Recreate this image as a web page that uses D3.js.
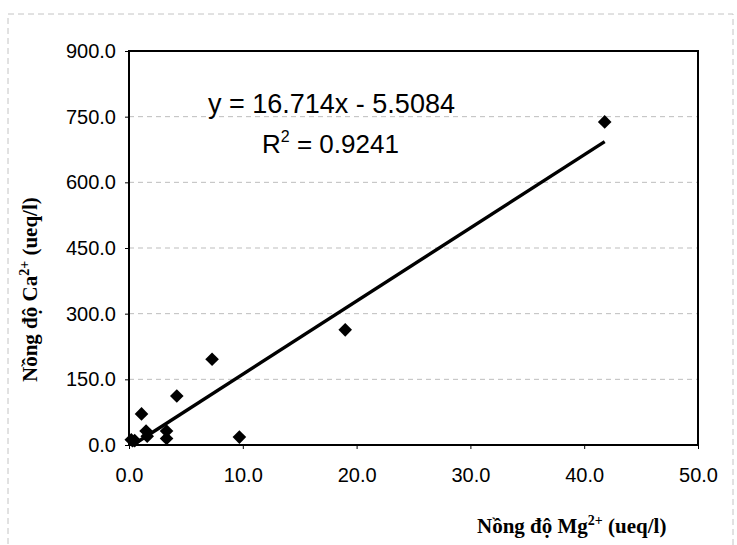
<!DOCTYPE html>
<html><head><meta charset="utf-8">
<script src="https://cdn.jsdelivr.net/npm/d3@7"></script>
<style>body{margin:0;background:#fff} svg{display:block}</style>
</head><body><svg id="c" width="737" height="545"></svg>
<script>
// Data
const mg = [0.2, 0.5, 1.1, 1.5, 1.6, 3.3, 3.3, 4.2, 7.3, 9.7, 19.0, 41.8];
const ca = [12, 10, 71, 32, 20, 32, 15, 112, 196, 18, 263, 738];
const xTicks = [0, 10, 20, 30, 40, 50];
const yTicks = [0, 150, 300, 450, 600, 750, 900];
const trendSlope = 16.714;
const trendIntercept = -5.5084;
const trendR2 = "0.9241";
const eqLabel = "y = 16.714x - 5.5084";

const svg = d3.select("#c");
const W = 737, H = 545;
const m = {left: 129, top: 51, right: 39, bottom: 100};
const x = d3.scaleLinear().domain([0, 50]).range([m.left, W - m.right]);
const y = d3.scaleLinear().domain([0, 900]).range([H - m.bottom, m.top]);
const fmt = d3.format(".1f");

// outer chart-area frame (light, dashed like the scan)
svg.append("rect").attr("x", 8).attr("y", 14).attr("width", 725).attr("height", 560)
  .attr("fill", "none").attr("stroke", "#c4c4c4").attr("stroke-width", 1)
  .attr("stroke-dasharray", "6,4");

// gridlines
svg.append("g").selectAll("line").data(yTicks.filter(d => d > 0 && d < 900)).join("line")
  .attr("x1", x(0)).attr("x2", x(50))
  .attr("y1", d => y(d)).attr("y2", d => y(d))
  .attr("stroke", "#bdbdbd").attr("stroke-width", 1).attr("stroke-dasharray", "5,4");

// axes
const tickFont = "'Liberation Sans', Arial, sans-serif";
const gy = svg.append("g").attr("transform", `translate(${x(0)},0)`)
  .call(d3.axisLeft(y).tickValues(yTicks).tickFormat(fmt).tickSize(4).tickPadding(9));
const gx = svg.append("g").attr("transform", `translate(0,${y(0)})`)
  .call(d3.axisBottom(x).tickValues(xTicks).tickFormat(fmt).tickSize(4).tickPadding(19));
[gx, gy].forEach(g => {
  g.select(".domain").remove();
  g.selectAll(".tick line").attr("stroke", "#000").attr("stroke-width", 1);
  g.selectAll(".tick text").attr("font-family", tickFont).attr("font-size", 20).attr("fill", "#000");
});

// plot border
svg.append("rect").attr("x", x(0)).attr("y", y(900))
  .attr("width", x(50) - x(0)).attr("height", y(0) - y(900))
  .attr("fill", "none").attr("stroke", "#000").attr("stroke-width", 2);

// trendline
const xmin = d3.min(mg), xmax = d3.max(mg);
svg.append("line")
  .attr("x1", x(xmin)).attr("y1", y(trendSlope * xmin + trendIntercept))
  .attr("x2", x(xmax)).attr("y2", y(trendSlope * xmax + trendIntercept))
  .attr("stroke", "#000").attr("stroke-width", 3.4);

// points
const pts = mg.map((v, i) => ({mg: v, ca: ca[i]}));
svg.append("g").selectAll("path").data(pts).join("path")
  .attr("transform", d => `translate(${x(d.mg)},${y(d.ca)})`)
  .attr("d", "M0,-6.8L6.8,0L0,6.8L-6.8,0Z").attr("fill", "#000");

// equation
svg.append("text").attr("x", 208).attr("y", 113)
  .attr("font-family", tickFont).attr("font-size", 27).attr("fill", "#000")
  .text(eqLabel);
const r = svg.append("text").attr("x", 262).attr("y", 153)
  .attr("font-family", tickFont).attr("font-size", 26).attr("fill", "#000");
r.append("tspan").text("R");
r.append("tspan").attr("dy", -11).attr("font-size", 16).text("2");
r.append("tspan").attr("dy", 11).text(" = " + trendR2);

// axis titles
const titleFont = "'Liberation Serif', 'Times New Roman', serif";
const xt = svg.append("text").attr("x", 477).attr("y", 533)
  .attr("font-family", titleFont).attr("font-weight", "bold").attr("font-size", 21).attr("fill", "#000");
xt.append("tspan").text("Nồng độ Mg");
xt.append("tspan").attr("dy", -8).attr("font-size", 14).text("2+");
xt.append("tspan").attr("dy", 8).text(" (ueq/l)");

const yt = svg.append("text").attr("transform", "translate(37,382) rotate(-90)")
  .attr("font-family", titleFont).attr("font-weight", "bold").attr("font-size", 21).attr("fill", "#000");
yt.append("tspan").text("Nồng độ Ca");
yt.append("tspan").attr("dy", -8).attr("font-size", 14).text("2+");
yt.append("tspan").attr("dy", 8).text(" (ueq/l)");
</script></body></html>
